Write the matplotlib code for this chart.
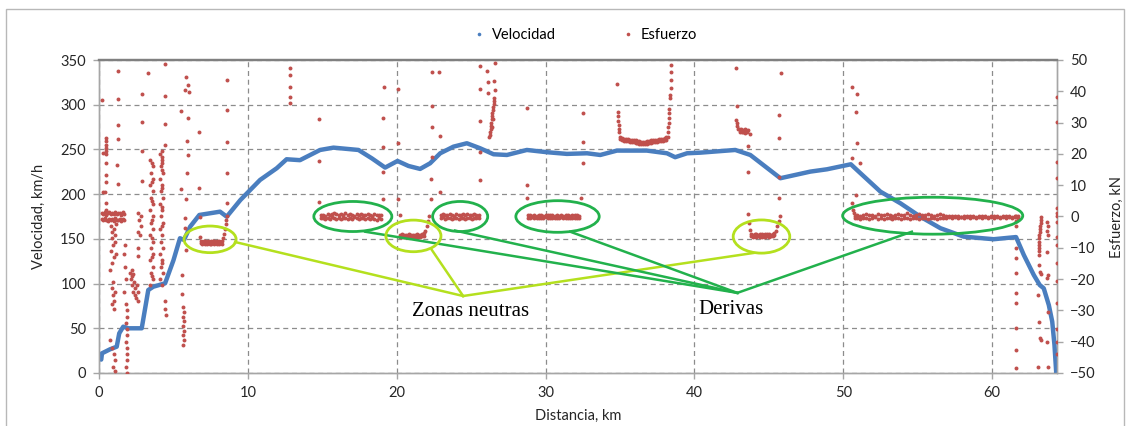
import matplotlib
matplotlib.use('Agg')
import matplotlib.pyplot as plt
from matplotlib.patches import Ellipse, Rectangle
from matplotlib.lines import Line2D

plt.rcParams['font.family'] = ['Lato', 'DejaVu Sans']

# ---- Velocidad (km/h) vs distancia (km) ----
vel_km = [0.15, 0.2, 0.74, 1.19, 1.36, 1.63, 1.97, 2.87, 3.31, 3.65, 4.44, 5.0, 5.44, 5.71,
          6.12, 6.74, 8.13, 8.58, 9.5, 10.82, 11.94, 12.6, 13.5, 14.85, 15.75, 17.43, 18.33,
          19.22, 20.05, 20.79, 21.57, 22.24, 22.92, 23.81, 24.71, 25.6, 26.5, 27.4, 28.74,
          30.09, 31.43, 32.78, 33.67, 34.79, 36.8, 38.15, 38.7, 39.5, 40.4, 42.74, 43.75,
          45.77, 47.78, 48.9, 50.5, 51.03, 52.49, 53.83, 55.17, 56.52, 58.08, 60.1, 61.6,
          62.12, 62.79, 63.19, 63.46, 63.8, 64.03, 64.18, 64.3]
vel_kmh = [15, 22, 26.5, 29.4, 44.4, 51.8, 50, 50, 92.8, 96.5, 100.3, 126, 150.7, 148.8,
           163.6, 176.7, 180.4, 174.8, 193.5, 215.9, 229, 239, 238, 249.4, 252, 249.4, 240,
           229.7, 237.1, 231.5, 228.2, 234.5, 245.7, 253.1, 256.9, 251.3, 244.6, 243.8, 249.4,
           246.9, 245, 245.7, 243.8, 248.7, 248.7, 245.7, 241.3, 245.7, 246.4, 249.4, 243.8,
           217.8, 225.2, 227.8, 233.4, 225.2, 202.8, 189.8, 174.8, 161.9, 152.5, 149.6, 152,
           132, 109.6, 98.4, 94.7, 76, 57.4, 31.3, 0]

# ---- Esfuerzo (kN): puntos sueltos (km, kN) ----
esf_arranque = [
    (0.22, 37.2), (1.25, 46.5), (1.25, 37.4), (1.25, 29.2), (1.3, 24.8), (1.22, 16.5),
    (1.3, 10.4), (0.25, 20.3), (0.27, 7.8), (0.47, 25.0), (0.47, 24.0), (0.48, 23.0),
    (0.47, 22.0), (0.46, 21.0), (0.47, 20.0), (0.47, 17.0), (0.47, 13.3), (0.47, 11.0),
    (0.40, 7.8), (0.47, 4.3), (0.45, 2.0),
    (0.8, -3), (0.85, -5), (0.9, -7), (1.0, -4), (1.05, -6), (1.1, -8), (0.95, -9),
    (1.15, -2.5), (0.8, -11), (1.0, -13), (0.9, -15), (1.15, -12), (0.75, -17),
    (0.9, -23), (0.95, -25), (1.0, -27), (0.9, -28), (1.05, -24), (1.0, -29.5), (0.95, -21),
    (0.75, -39.5), (0.9, -42), (1.0, -44), (1.05, -46), (0.95, -48), (1.1, -49.5),
    (1.8, -28), (1.85, -30), (1.9, -32), (1.8, -34), (1.85, -36), (1.9, -38), (1.8, -40),
    (1.85, -42), (1.9, -44), (1.85, -46), (1.8, -48), (1.9, -50), (1.7, -12), (1.75, -16),
    (1.8, -20), (1.7, -24), (1.75, -9),
    (2.1, -18), (2.15, -20), (2.2, -22), (2.25, -19), (2.3, -24), (2.35, -21), (2.4, -23),
    (2.45, -25), (2.5, -26), (2.55, -22), (2.6, -27), (2.65, -24), (2.2, -17), (2.3, -18.5),
    (2.6, 1), (2.7, -1), (2.8, -3), (2.65, -5), (2.75, -6), (2.85, 0), (2.6, -10),
    (2.6, -12.7), (2.87, 39.1), (2.87, 30.3), (3.3, 46), (2.87, 21), (2.87, 11.5),
]
esf_columnas_4km = [
    (3.45, 18), (3.6, 16), (3.5, 14), (3.65, 12), (3.45, 10), (3.6, 8), (3.5, 6), (3.65, 4),
    (3.45, 2), (3.6, 0), (3.5, -2), (3.65, -4), (3.45, -6), (3.6, -8), (3.5, -10),
    (3.65, -12), (3.45, -14), (3.6, -16), (3.5, -18), (3.65, -20), (3.45, -22),
    (3.55, 17), (3.55, 11), (3.55, 5), (3.55, -1), (3.55, -7), (3.55, -13), (3.55, -19),
    (4.1, 20), (4.25, 18), (4.15, 16), (4.3, 14), (4.1, 12), (4.25, 10), (4.15, 8),
    (4.3, 6), (4.1, 4), (4.25, 2), (4.15, 0), (4.3, -2), (4.1, -4), (4.25, -6), (4.15, -8),
    (4.3, -10), (4.1, -12), (4.25, -14), (4.15, -16), (4.3, -18), (4.1, -20), (4.25, -22),
    (4.2, 21), (4.2, 19), (4.2, 17), (4.2, 15), (4.2, 9), (4.2, 3), (4.2, -3), (4.2, -15),
    (4.4, 48.6), (4.4, 38.6), (4.4, 29.5), (4.4, 22.8), (4.45, -27), (4.45, -29.5),
    (4.5, -31.5),
]
esf_6km = [
    (5.87, 44.6), (5.96, 42), (6.05, 39.9), (5.78, 40.4), (5.5, 33.7), (5.96, 31.4),
    (5.9, 24.1), (5.96, 19.6), (5.9, 13.8), (5.83, 5.6), (5.78, -0.6), (5.78, -3.8),
    (5.83, -10.7), (5.5, 8.8), (6.72, 27.1), (6.72, 9.2), (6.8, -0.2),
    (5.65, -29), (5.7, -30.5), (5.65, -32), (5.7, -33.5), (5.65, -35), (5.7, -36.5),
    (5.65, -38), (5.7, -39.5), (5.65, -41), (5.6, -18.6), (5.6, -24.9),
    (8.35, -7), (8.4, -5.5), (8.45, -4), (8.5, -2.5), (8.55, -1), (8.6, 0), (6.8, -6.5),
    (8.6, 43.5), (8.6, 34), (8.6, 23.7), (8.6, 14), (8.6, 4.2),
]
esf_12_33km = [
    (12.8, 47.3), (12.8, 45.2), (12.8, 41.3), (12.8, 38.3), (12.8, 36.2),
    (14.8, 31.2), (14.8, 17.8), (14.8, 4.7), (19.07, 31.4), (19.07, 22.3), (19.07, 14.3),
    (19.07, 5.5), (19.15, 41.3), (20.1, 40.6), (20.1, 23.4), (20.1, 5.6), (20.2, 0.5),
    (21.9, -4.5), (22.0, -3), (22.1, -1.5), (22.2, 0),
    (22.36, 46.1), (22.87, 46.1), (22.36, 35.4), (22.36, 28.6), (22.9, 25.6), (22.36, 19.1),
    (22.3, 12), (22.9, 7.7), (22.3, 5.6),
    (25.56, 48.2), (26.05, 46.5), (26.6, 48.9), (25.6, 40.6), (26.5, 43.4), (26.6, 40.5),
    (26.1, 42.9), (26.1, 39.4), (25.6, 30.6), (25.6, 20.5), (25.6, 11.7),
    (26.55, 38), (26.52, 37), (26.5, 36), (26.48, 35), (26.45, 34), (26.42, 33), (26.4, 32),
    (26.38, 31), (26.35, 30), (26.33, 29), (26.3, 28), (26.28, 27), (26.25, 26),
    (26.22, 25.4), (26.45, 31), (26.4, 28.5),
    (28.74, 34.6), (28.74, 10.1), (28.74, 5.9), (32.5, 33.2), (32.5, 23.9), (32.5, 17),
    (32.4, 5.8),
]
esf_35_46km = [
    (34.8, 42.3), (34.85, 33.4), (34.85, 32), (34.85, 30.5), (34.9, 29.2), (34.9, 28),
    (34.95, 27), (38.2, 25.5), (38.22, 27), (38.25, 28.5), (38.27, 30), (38.3, 31.5),
    (38.3, 33), (38.32, 34.5), (38.35, 37.9), (38.35, 38.8), (38.4, 41), (38.42, 43.6),
    (38.45, 46.3), (38.45, 48.4),
    (42.8, 47.5), (45.8, 45.7), (42.85, 35.4), (45.7, 32.4), (45.7, 25.2), (43.6, 22.6),
    (43.6, 14.3), (45.7, 12.7), (45.7, 5.8), (43.6, 0.7), (43.7, -4.3), (43.65, -2),
    (42.82, 30.8), (42.85, 29.8), (42.87, 28.8), (42.9, 28.0), (43.0, 27.8), (43.12, 27.8),
    (43.24, 27.6), (43.36, 27.8), (43.48, 27.7), (43.6, 27.6), (43.7, 26.2),
    (43.05, 27.0), (43.17, 26.9), (43.29, 27.0), (43.41, 26.8), (43.53, 27.0),
    (45.45, -4.5), (45.55, -3), (45.65, -1.5), (45.75, 0),
]
esf_50_64km = [
    (50.87, 33.5), (50.9, 23.4), (50.6, 18.6), (51.1, 17), (50.87, 6.9), (50.6, 4.2),
    (50.6, 41.5), (50.9, 39.2), (50.65, 2), (50.7, 1), (50.75, 0), (50.8, -0.5),
    (61.6, 0), (61.6, -1.5), (61.62, -3), (61.6, -10), (61.62, -13.3), (61.6, -18),
    (61.62, -24.4), (61.62, -27.6), (61.6, -35.6), (61.62, -42.6), (61.62, -48.4),
    (63.3, -0.2), (63.28, -1), (63.25, -2), (63.22, -3), (63.2, -4), (63.18, -5),
    (63.15, -6), (63.15, -7), (63.12, -8), (63.15, -9), (63.12, -10), (63.15, -11),
    (63.12, -12.3), (63.15, -15.5), (63.2, -17.7), (63.3, -18.5), (63.1, -25),
    (63.15, -33.7), (63.2, -38.8), (63.3, -39.5), (63.05, -48),
    (63.7, -1.8), (63.72, -3), (63.7, -4.5), (63.72, -5.9), (63.7, -11.2), (63.72, -18.7),
    (63.7, -19.6), (63.72, -30.4), (63.7, -40), (63.75, -48),
    (64.35, 38.2), (64.35, 30.2), (64.35, 17.4), (64.35, 12.3), (64.35, 2.7), (64.35, 1),
    (64.33, 0), (64.35, -1.8), (64.35, -6.5), (64.35, -9), (64.35, -15), (64.35, -20.5),
    (64.33, -27.6), (64.35, -36), (64.35, -40), (64.35, -44),
]

# ---- Esfuerzo (kN): bandas densas (dos filas de puntos) ----
banda_arranque_km = [0.2, 0.3, 0.4, 0.5, 0.6, 0.7, 0.8, 0.9, 1.0, 1.1, 1.2, 1.3, 1.4, 1.5, 1.6, 1.7]
banda_arranque_a = [1.2, 0.8, 1.4, 0.6, 1.0, 1.3, 0.7, 1.1, 0.9, 1.4, 0.8, 1.2, 1.0, 0.6, 1.3, 0.9]
banda_arranque_b = [-0.8, -1.2, -0.6, -1.0, -1.4, -0.7, -1.1, -0.9, -1.3, -0.6, -1.0, -1.2, -0.8, -1.4, -0.7, -1.1]

neutra_7_km = [6.85, 6.95, 7.05, 7.15, 7.25, 7.35, 7.45, 7.55, 7.65, 7.75, 7.85, 7.95, 8.05, 8.15, 8.25]
neutra_7_a = [-7.9, -8.0, -7.8, -7.9, -8.1, -7.8, -8.0, -7.8, -7.9, -7.8, -8.1, -7.9, -7.8, -8.0, -7.9]
neutra_7_b = [-8.6, -8.8, -8.5, -8.7, -8.9, -8.6, -8.7, -8.8, -8.5, -8.7, -8.6, -8.9, -8.7, -8.5, -8.8]

banda_15_km = [14.9, 15.05, 15.2, 15.35, 15.5, 15.65, 15.8, 15.95, 16.1, 16.25, 16.4, 16.55, 16.7, 16.85,
               17.0, 17.15, 17.3, 17.45, 17.6, 17.75, 17.9, 18.05, 18.2, 18.35, 18.5, 18.65, 18.8, 18.95]
banda_15_a = [0.4, 0.6, 0.3, 0.7, 0.5, 0.9, 1.1, 0.7, 0.6, 0.8, 0.4, 1.0, 0.5, 0.7,
              0.6, 0.3, 0.8, 0.5, 0.7, 0.4, 0.6, 0.9, 0.5, 0.3, 0.7, 0.6, 0.4, 0.5]
banda_15_b = [-0.6, -0.4, -0.8, -0.5, -0.7, -0.3, -0.6, -0.9, -0.5, -0.7, -0.4, -0.6, -0.8, -0.5,
              -0.7, -0.3, -0.6, -0.9, -0.5, -0.4, -0.7, -0.6, -0.8, -0.5, -0.7, -1.0, -0.6, -0.7]

neutra_21_km = [20.25, 20.37, 20.49, 20.61, 20.73, 20.85, 20.97, 21.09, 21.21, 21.33, 21.45, 21.57, 21.69, 21.81]
neutra_21_a = [-5.8, -5.7, -6.0, -5.8, -5.9, -5.7, -5.8, -6.0, -5.8, -5.7, -5.9, -5.8, -5.6, -5.4]
neutra_21_b = [-6.5, -6.6, -6.4, -6.7, -6.5, -6.6, -6.4, -6.5, -6.7, -6.5, -6.4, -6.6, -6.3, -6.1]

banda_23_km = [22.95, 23.1, 23.25, 23.4, 23.55, 23.7, 23.85, 24.0, 24.15, 24.3, 24.45, 24.6, 24.75,
               24.9, 25.05, 25.2, 25.35, 25.5]
banda_23_a = [0.5, 0.7, 0.4, 0.6, 0.8, 0.5, 0.3, 0.7, 0.6, 0.4, 0.8, 0.5, 0.7, 0.6, 0.4, 0.7, 0.5, 0.6]
banda_23_b = [-0.5, -0.3, -0.7, -0.5, -0.4, -0.8, -0.6, -0.5, -0.7, -0.4, -0.6, -0.9, -0.5, -0.6, -0.7, -0.4, -0.6, -0.5]

banda_29_km = [28.8, 28.95, 29.1, 29.25, 29.4, 29.55, 29.7, 29.85, 30.0, 30.15, 30.3, 30.45, 30.6,
               30.75, 30.9, 31.05, 31.2, 31.35, 31.5, 31.65, 31.8, 31.95, 32.1, 32.25]
banda_29_a = [0.4, 0.5, 0.3, 0.4, 0.3, 0.6, 0.4, 0.3, 0.5, 0.4, 0.4, 0.6, 0.3, 0.5, 0.3, 0.4, 0.3,
              0.5, 0.4, 0.3, 0.6, 0.4, 0.4, 0.3]
banda_29_b = [-0.4, -0.5, -0.3, -0.4, -0.6, -0.4, -0.4, -0.5, -0.3, -0.4, -0.4, -0.5, -0.6, -0.4,
              -0.4, -0.3, -0.5, -0.4, -0.4, -0.6, -0.4, -0.4, -0.5, -0.4]

cima_36_km = [35.0, 35.13, 35.26, 35.39, 35.52, 35.65, 35.78, 35.91, 36.04, 36.17, 36.3, 36.43,
              36.56, 36.69, 36.82, 36.95, 37.08, 37.21, 37.34, 37.47, 37.6, 37.73, 37.86, 37.99, 38.1]
cima_36_a = [25.4, 25.0, 24.8, 24.9, 24.7, 24.6, 24.6, 24.4, 24.3, 24.2, 24.0, 23.9, 23.8,
             23.9, 24.0, 24.2, 24.3, 24.4, 24.5, 24.6, 24.7, 24.8, 24.9, 25.0, 25.3]
cima_36_b = [24.7, 24.3, 24.1, 24.2, 24.0, 23.9, 23.8, 23.7, 23.6, 23.5, 23.3, 23.1, 23.2,
             23.1, 23.3, 23.5, 23.6, 23.7, 23.8, 23.9, 24.0, 24.1, 24.2, 24.3, 24.6]

neutra_44_km = [43.8, 43.92, 44.04, 44.16, 44.28, 44.4, 44.52, 44.64, 44.76, 44.88, 45.0, 45.12, 45.24, 45.36]
neutra_44_a = [-5.6, -5.8, -5.5, -5.7, -5.9, -5.6, -5.7, -5.8, -5.5, -5.7, -5.6, -5.8, -5.5, -5.2]
neutra_44_b = [-6.3, -6.4, -6.2, -6.5, -6.3, -6.4, -6.6, -6.3, -6.4, -6.2, -6.5, -6.3, -6.2, -5.9]

banda_51_km = [50.9, 51.1, 51.3, 51.5, 51.7, 51.9, 52.1, 52.3, 52.5, 52.7, 52.9, 53.1, 53.3, 53.5,
               53.7, 53.9, 54.1, 54.3, 54.5, 54.7, 54.9, 55.1, 55.3, 55.5, 55.7, 55.9, 56.1, 56.3,
               56.5, 56.7, 56.9, 57.1, 57.3, 57.5, 57.7, 57.9, 58.1, 58.3, 58.5, 58.7, 58.9, 59.1,
               59.3, 59.5, 59.7, 59.9, 60.1, 60.3, 60.5, 60.7, 60.9, 61.1, 61.3, 61.5, 61.7]
banda_51_a = [0.6, 0.3, 0.5, 0.8, 0.4, 0.6, 0.3, 0.9, 0.5, 0.4, 0.7, 0.6, 0.3, 0.5,
              0.8, 0.4, 0.6, 1.0, 0.5, 0.3, 0.6, 0.7, 0.4, 0.5, 0.9, 0.6, 0.3, 0.5,
              0.7, 0.4, 0.3, 0.1, 0.0, 0.1, 0.0, -0.1, 0.1, 0.0, 0.1, 0.0, -0.1, 0.0,
              0.1, 0.0, -0.1, 0.0, 0.1, 0.0, -0.1, 0.0, 0.0, 0.1, -0.1, 0.0, 0.0]
banda_51_b = [-0.5, -0.7, -0.4, -0.6, -0.8, -0.5, -0.3, -0.7, -0.6, -0.9, -0.4, -0.5, -0.7, -0.6,
              -0.4, -0.8, -0.5, -0.6, -0.7, -0.4, -0.5, -0.9, -0.6, -0.4, -0.7, -0.5, -0.6, -0.8,
              -0.4, -0.5, -0.4, -0.3, -0.4, -0.3, -0.4, -0.3, -0.4, -0.3, -0.4, -0.3, -0.4, -0.3,
              -0.4, -0.3, -0.4, -0.3, -0.4, -0.3, -0.4, -0.3, -0.4, -0.3, -0.4, -0.3, -0.4]

puntos = (esf_arranque + esf_columnas_4km + esf_6km + esf_12_33km + esf_35_46km + esf_50_64km)
esf_km = [p[0] for p in puntos]
esf_kN = [p[1] for p in puntos]
bandas = [
    (banda_arranque_km, banda_arranque_a, banda_arranque_b),
    (neutra_7_km, neutra_7_a, neutra_7_b),
    (banda_15_km, banda_15_a, banda_15_b),
    (neutra_21_km, neutra_21_a, neutra_21_b),
    (banda_23_km, banda_23_a, banda_23_b),
    (banda_29_km, banda_29_a, banda_29_b),
    (cima_36_km, cima_36_a, cima_36_b),
    (neutra_44_km, neutra_44_a, neutra_44_b),
    (banda_51_km, banda_51_a, banda_51_b),
]
for bx, ba, bb in bandas:
    esf_km += bx + bx
    esf_kN += ba + bb

# ---- Anotaciones ----
azul = '#4A7EBF'
rojo = '#C0504D'
verde = '#22B14C'
lima = '#B4E01E'

zonas_neutras = [(7.46, -7.3, 3.5, 8.5), (21.12, -6.2, 3.7, 10.1), (44.5, -6.4, 3.8, 10.6)]
derivas = [(17.05, 0.0, 5.24, 9.6), (24.26, 0.0, 3.7, 9.6), (30.8, 0.0, 5.6, 10.1), (56.0, 0.25, 12.1, 11.8)]
zonas_apex = (24.46, -25.4)
zonas_desde = [(9.14, -8.15), (22.36, -10.7), (43.95, -11.66)]
derivas_apex = (42.88, -24.4)
derivas_desde = [(17.88, -4.86), (23.92, -4.5), (31.65, -4.86), (54.6, -4.86)]

fig = plt.figure(figsize=(11.3, 4.26), dpi=100)
ax = fig.add_axes([99 / 1130, 1 - 373 / 426, (1057 - 99) / 1130, (373 - 60) / 426])
ax2 = ax.twinx()

ax.plot(vel_km, vel_kmh, color=azul, lw=3.2, solid_capstyle='round', zorder=3)
ax2.scatter(esf_km, esf_kN, s=8, color=rojo, linewidths=0, zorder=3)

for cx, cy, w, h in derivas:
    ax2.add_patch(Ellipse((cx, cy), w, h, fill=False, ec=verde, lw=2.0, zorder=5))
for cx, cy, w, h in zonas_neutras:
    ax2.add_patch(Ellipse((cx, cy), w, h, fill=False, ec=lima, lw=2.0, zorder=5))
for x0, y0 in zonas_desde:
    ax2.plot([x0, zonas_apex[0]], [y0, zonas_apex[1]], color=lima, lw=1.8, zorder=4)
for x0, y0 in derivas_desde:
    ax2.plot([x0, derivas_apex[0]], [y0, derivas_apex[1]], color=verde, lw=1.8, zorder=4)

ax2.text(24.93, -30.5, 'Zonas neutras', family='Liberation Serif', fontsize=15,
         ha='center', va='center', color='black', zorder=6)
ax2.text(42.47, -29.6, 'Derivas', family='Liberation Serif', fontsize=15,
         ha='center', va='center', color='black', zorder=6)

ax.set_xlim(0, 64.35)
ax.set_ylim(0, 350)
ax2.set_ylim(-50, 50)
ax.set_xticks(range(0, 61, 10))
ax.set_yticks(range(0, 351, 50))
ax2.set_yticks(range(-50, 51, 10))

ax.grid(True, color='#8c8c8c', ls=(0, (4, 3)), lw=0.9)
ax.set_axisbelow(True)

for a in (ax, ax2):
    for s in a.spines.values():
        s.set_color('#a6a6a6')
        s.set_linewidth(1.0)
ax.spines['top'].set_color('#808080')
ax.spines['top'].set_linewidth(1.6)
ax2.spines['top'].set_color('#808080')
ax2.spines['top'].set_linewidth(1.6)

ax.tick_params(axis='both', colors='#a6a6a6', labelcolor='#262626', labelsize=10.5,
               length=4.5, width=1.0, direction='out', pad=5)
ax2.tick_params(axis='y', colors='#a6a6a6', labelcolor='#262626', labelsize=10.5,
                length=4.5, width=1.0, direction='out', pad=5)

ax.set_xlabel('Distancia, km', fontsize=10.5, color='#262626', labelpad=6)
ax.set_ylabel('Velocidad, km/h', fontsize=10.5, color='#262626', labelpad=10)
ax2.set_ylabel('Esfuerzo, kN', fontsize=10.5, color='#262626', labelpad=10)

handles = [Line2D([], [], marker='o', ms=2.6, ls='none', color=azul, mec='none'),
           Line2D([], [], marker='o', ms=2.6, ls='none', color=rojo, mec='none')]
fig.legend(handles, ['Velocidad', 'Esfuerzo'], loc='center', bbox_to_anchor=(0.518, 0.918),
           ncol=2, frameon=False, fontsize=10.5, handlelength=0.8, handletextpad=0.5,
           columnspacing=4.5)

fig.patches.append(Rectangle((6 / 1130, -0.1), (1124 - 6) / 1130, 1.1 - 9 / 426,
                             transform=fig.transFigure, fill=False, ec='#b8b8b8', lw=1.0))

fig.savefig('out.png', dpi=100)
